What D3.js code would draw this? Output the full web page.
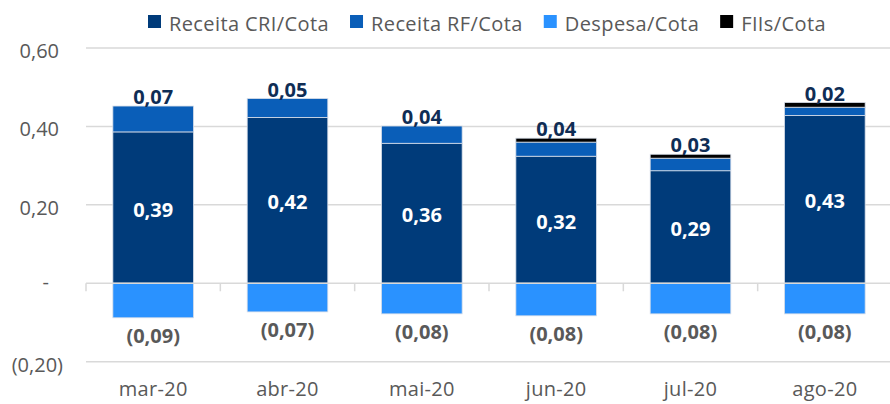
<!DOCTYPE html>
<meta charset="utf-8">
<style>
  body { margin: 0; background: #fff; }
  text { font-family: "Open Sans", sans-serif; }
</style>
<svg></svg>
<script src="https://cdn.jsdelivr.net/npm/d3@7"></script>
<script>
var width = 890,
    height = 404;

var months = ["mar-20", "abr-20", "mai-20", "jun-20", "jul-20", "ago-20"];
var receitaCri = [0.386, 0.423, 0.357, 0.324, 0.287, 0.428];
var receitaRf = [0.066, 0.048, 0.044, 0.036, 0.032, 0.021];
var fiis = [0, 0, 0, 0.010, 0.010, 0.012];
var despesa = [-0.088, -0.073, -0.078, -0.083, -0.078, -0.078];
var yTicks = [-0.2, 0, 0.2, 0.4, 0.6];

var seriesNames = ["Receita CRI/Cota", "Receita RF/Cota", "Despesa/Cota", "FIIs/Cota"];
var colors = ["#003b7a", "#0a5eb8", "#2a92ff", "#000000"];

var svg = d3.select("svg")
    .attr("width", width)
    .attr("height", height);

var x = d3.scaleBand()
    .domain(months)
    .range([86, 892])
    .paddingInner(0.4)
    .paddingOuter(0.2);

var y = d3.scaleLinear()
    .domain([-0.2, 0.6])
    .range([361.7, 48]);

function num(v) {
  var s = d3.format(".2f")(Math.abs(v)).replace(".", ",");
  if (Math.abs(v) < 1e-9) return "-";
  return v < 0 ? "(" + s + ")" : s;
}

// gridlines
svg.append("g")
  .selectAll("line")
  .data(yTicks.filter(function(d) { return d !== 0; }))
  .enter().append("line")
    .attr("x1", 86)
    .attr("x2", 890)
    .attr("y1", function(d) { return y(d); })
    .attr("y2", function(d) { return y(d); })
    .attr("stroke", "#d9d9d9")
    .attr("stroke-width", 1.5);

// y labels
svg.append("g")
  .selectAll("text")
  .data(yTicks)
  .enter().append("text")
    .attr("x", function(d) { return d < 0 ? 63 : d === 0 ? 49 : 59; })
    .attr("y", function(d) { return d === 0 ? y(d) + 6 : y(d) + 10; })
    .attr("text-anchor", "end")
    .attr("fill", "#595959")
    .style("font-size", "20px")
    .text(num);

// stacked series
var rows = months.map(function(m, i) {
  return { month: m, cri: receitaCri[i], rf: receitaRf[i], fii: fiis[i], desp: despesa[i] };
});

var stack = d3.stack().keys(["cri", "rf", "fii"]);
var layers = stack(rows);

svg.append("g")
  .selectAll("g")
  .data(layers)
  .enter().append("g")
    .attr("fill", function(d, i) { return [colors[0], colors[1], colors[3]][i]; })
  .selectAll("rect")
  .data(function(d) { return d.filter(function(p) { return p[1] - p[0] > 0; }); })
  .enter().append("rect")
    .attr("x", function(d) { return x(d.data.month); })
    .attr("width", x.bandwidth())
    .attr("y", function(d) { return y(d[1]); })
    .attr("height", function(d) { return y(d[0]) - y(d[1]); })
    .attr("stroke", "#d6dde8")
    .attr("stroke-width", 0.8);

svg.append("g")
  .selectAll("rect")
  .data(rows)
  .enter().append("rect")
    .attr("x", function(d) { return x(d.month); })
    .attr("width", x.bandwidth())
    .attr("y", y(0))
    .attr("height", function(d) { return y(d.desp) - y(0); })
    .attr("fill", colors[2])
    .attr("stroke", "#d6dde8")
    .attr("stroke-width", 0.8);

// zero axis with ticks
var axis = svg.append("g").attr("stroke", "#d9d9d9").attr("stroke-width", 1.5);
axis.append("line")
    .attr("x1", 86).attr("x2", 890)
    .attr("y1", y(0)).attr("y2", y(0));
axis.selectAll(".tk")
  .data(months.concat(["end"]))
  .enter().append("line")
    .attr("x1", function(d, i) { return 86 + i * x.step(); })
    .attr("x2", function(d, i) { return 86 + i * x.step(); })
    .attr("y1", y(0))
    .attr("y2", y(0) + 8);

// category labels
svg.append("g")
  .selectAll("text")
  .data(months)
  .enter().append("text")
    .attr("x", function(d) { return x(d) + x.bandwidth() / 2; })
    .attr("y", 396)
    .attr("text-anchor", "middle")
    .attr("fill", "#595959")
    .style("font-size", "20px")
    .style("letter-spacing", "0.3px")
    .text(function(d) { return d; });

// value labels
var labels = svg.append("g")
    .attr("text-anchor", "middle")
    .style("font-size", "20px")
    .style("font-weight", "bold");

labels.selectAll(".cri")
  .data(rows)
  .enter().append("text")
    .attr("x", function(d) { return x(d.month) + x.bandwidth() / 2; })
    .attr("y", function(d) { return y(d.cri / 2) + 9; })
    .attr("fill", "#ffffff")
    .text(function(d) { return num(d.cri); });

labels.selectAll(".rf")
  .data(rows)
  .enter().append("text")
    .attr("x", function(d) { return x(d.month) + x.bandwidth() / 2; })
    .attr("y", function(d) { return y(d.cri + d.rf + d.fii) - 2; })
    .attr("fill", "#0f2d55")
    .text(function(d) { return num(d.rf); });

labels.selectAll(".desp")
  .data(rows)
  .enter().append("text")
    .attr("x", function(d) { return x(d.month) + x.bandwidth() / 2; })
    .attr("y", function(d) { return y(d.desp) + 25; })
    .attr("fill", "#595959")
    .text(function(d) { return num(d.desp); });

// legend
var legend = svg.append("g");
var items = legend.selectAll("g")
  .data(seriesNames)
  .enter().append("g");
items.append("rect")
    .attr("width", 13)
    .attr("height", 13)
    .attr("y", 15)
    .attr("fill", function(d, i) { return colors[i]; });
items.append("text")
    .attr("x", 21)
    .attr("y", 31)
    .attr("fill", "#595959")
    .style("font-size", "20px")
    .style("letter-spacing", "0.4px")
    .text(function(d) { return d; });

var pos = 0;
items.each(function() {
  var w = 21 + d3.select(this).select("text").node().getComputedTextLength();
  d3.select(this).attr("transform", "translate(" + pos + ",0)");
  pos += w + 21;
});
var total = pos - 21;
legend.attr("transform", "translate(" + (487 - total / 2) + ",0)");
</script>
